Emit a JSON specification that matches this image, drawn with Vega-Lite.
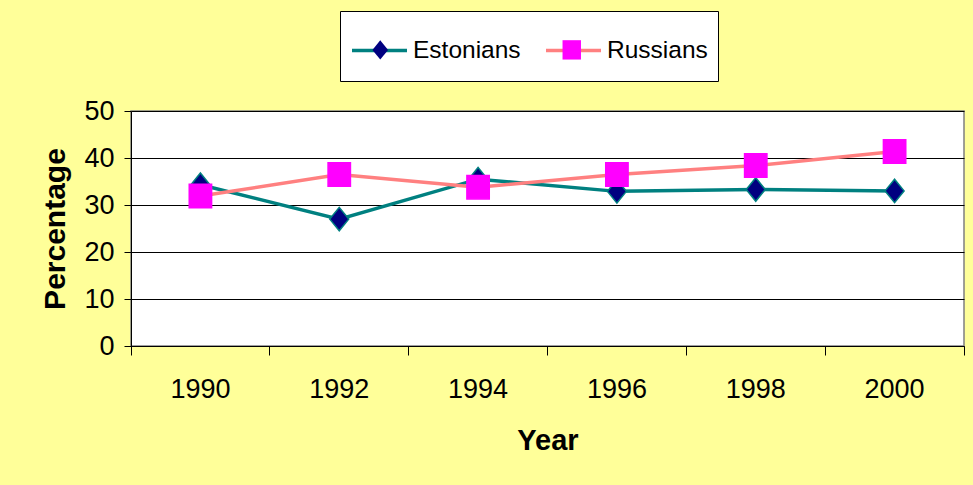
{
  "$schema": "https://vega.github.io/schema/vega-lite/v6.json",
  "autosize": {"type": "none"},
  "width": 833,
  "height": 235,
  "padding": {"left": 131, "top": 111, "right": 9, "bottom": 139},
  "background": "#FFFF99",
  "config": {
    "font": "Liberation Sans",
    "view": {"fill": "white", "stroke": "#808080", "strokeWidth": 1.5},
    "axis": {"labelFont": "Liberation Sans", "titleFont": "Liberation Sans", "labelColor": "black", "titleColor": "black", "domainColor": "black", "tickColor": "black"}
  },
  "data": {
    "values": [
      {"year": "1990", "series": "Estonians", "value": 34.3},
      {"year": "1992", "series": "Estonians", "value": 27.0},
      {"year": "1994", "series": "Estonians", "value": 35.5},
      {"year": "1996", "series": "Estonians", "value": 32.9},
      {"year": "1998", "series": "Estonians", "value": 33.3},
      {"year": "2000", "series": "Estonians", "value": 33.0},
      {"year": "1990", "series": "Russians", "value": 31.9},
      {"year": "1992", "series": "Russians", "value": 36.5},
      {"year": "1994", "series": "Russians", "value": 33.8},
      {"year": "1996", "series": "Russians", "value": 36.5},
      {"year": "1998", "series": "Russians", "value": 38.4},
      {"year": "2000", "series": "Russians", "value": 41.4}
    ]
  },
  "encoding": {
    "x": {
      "field": "year", "type": "ordinal",
      "scale": {"type": "band", "paddingInner": 0, "paddingOuter": 0},
      "axis": {
        "title": "Year", "titleFontSize": 29, "titleFontWeight": "bold", "titlePadding": 24,
        "labelAngle": 0, "labelFontSize": 27, "labelPadding": 21,
        "tickSize": 9, "tickWidth": 1, "bandPosition": 1, "tickExtra": true,
        "domainWidth": 1, "grid": false
      }
    },
    "y": {
      "field": "value", "type": "quantitative",
      "scale": {"domain": [0, 50], "nice": false},
      "axis": {
        "title": "Percentage", "titleFontSize": 30, "titleFontWeight": "bold", "titlePadding": 13,
        "values": [0, 10, 20, 30, 40, 50], "labelFontSize": 27, "labelPadding": 10,
        "tickSize": 7, "grid": true, "gridColor": "black", "gridOpacity": 1, "gridWidth": 1, "domainWidth": 1
      }
    }
  },
  "layer": [
    {
      "mark": {"type": "line", "strokeWidth": 3.5},
      "encoding": {
        "stroke": {
          "field": "series", "type": "nominal",
          "scale": {"domain": ["Estonians", "Russians"], "range": ["#008080", "#FF8080"]},
          "legend": {
            "title": " ", "titleOrient": "bottom", "titleFontSize": 6, "titlePadding": 3,
            "orient": "none", "legendX": 209, "legendY": -100, "direction": "horizontal",
            "fillColor": "white", "strokeColor": "black", "padding": 10, "zindex": 1,
            "labelFontSize": 24.5, "labelFont": "Liberation Sans", "labelColor": "black", "labelOffset": 4,
            "symbolType": "stroke", "symbolSize": 3025, "columnPadding": 18, "symbolStrokeWidth": 3.5, "symbolOpacity": 1
          }
        }
      }
    },
    {
      "mark": {"type": "point", "filled": true, "size": 500, "strokeWidth": 1.5, "opacity": 1},
      "encoding": {
        "fill": {
          "field": "series", "type": "nominal",
          "scale": {"range": ["#000080", "#FF00FF"]},
          "legend": {
            "title": null, "orient": "none", "legendX": 210, "legendY": -100.5, "direction": "horizontal",
            "padding": 27, "zindex": 2,
            "labelFontSize": 24.5, "labelExpr": "''", "labelOffset": 0,
            "symbolSize": 340, "columnPadding": 166.5, "symbolStrokeWidth": 0, "symbolOpacity": 1
          }
        },
        "shape": {
          "field": "series", "type": "nominal",
          "scale": {"range": ["M0,-1.05L0.85,0L0,1.05L-0.85,0Z", "M-1,-1.05H1V1.05H-1Z"]},
          "legend": {
            "title": null, "orient": "none", "legendX": 210, "legendY": -100.5, "direction": "horizontal",
            "padding": 27, "zindex": 2,
            "labelFontSize": 24.5, "labelExpr": "''", "labelOffset": 0,
            "symbolSize": 340, "columnPadding": 166.5, "symbolStrokeWidth": 0, "symbolOpacity": 1
          }
        },
        "stroke": {
          "condition": {"test": "datum.series === 'Russians'", "value": "#FF00FF"},
          "value": "#008080"
        }
      }
    }
  ]
}
